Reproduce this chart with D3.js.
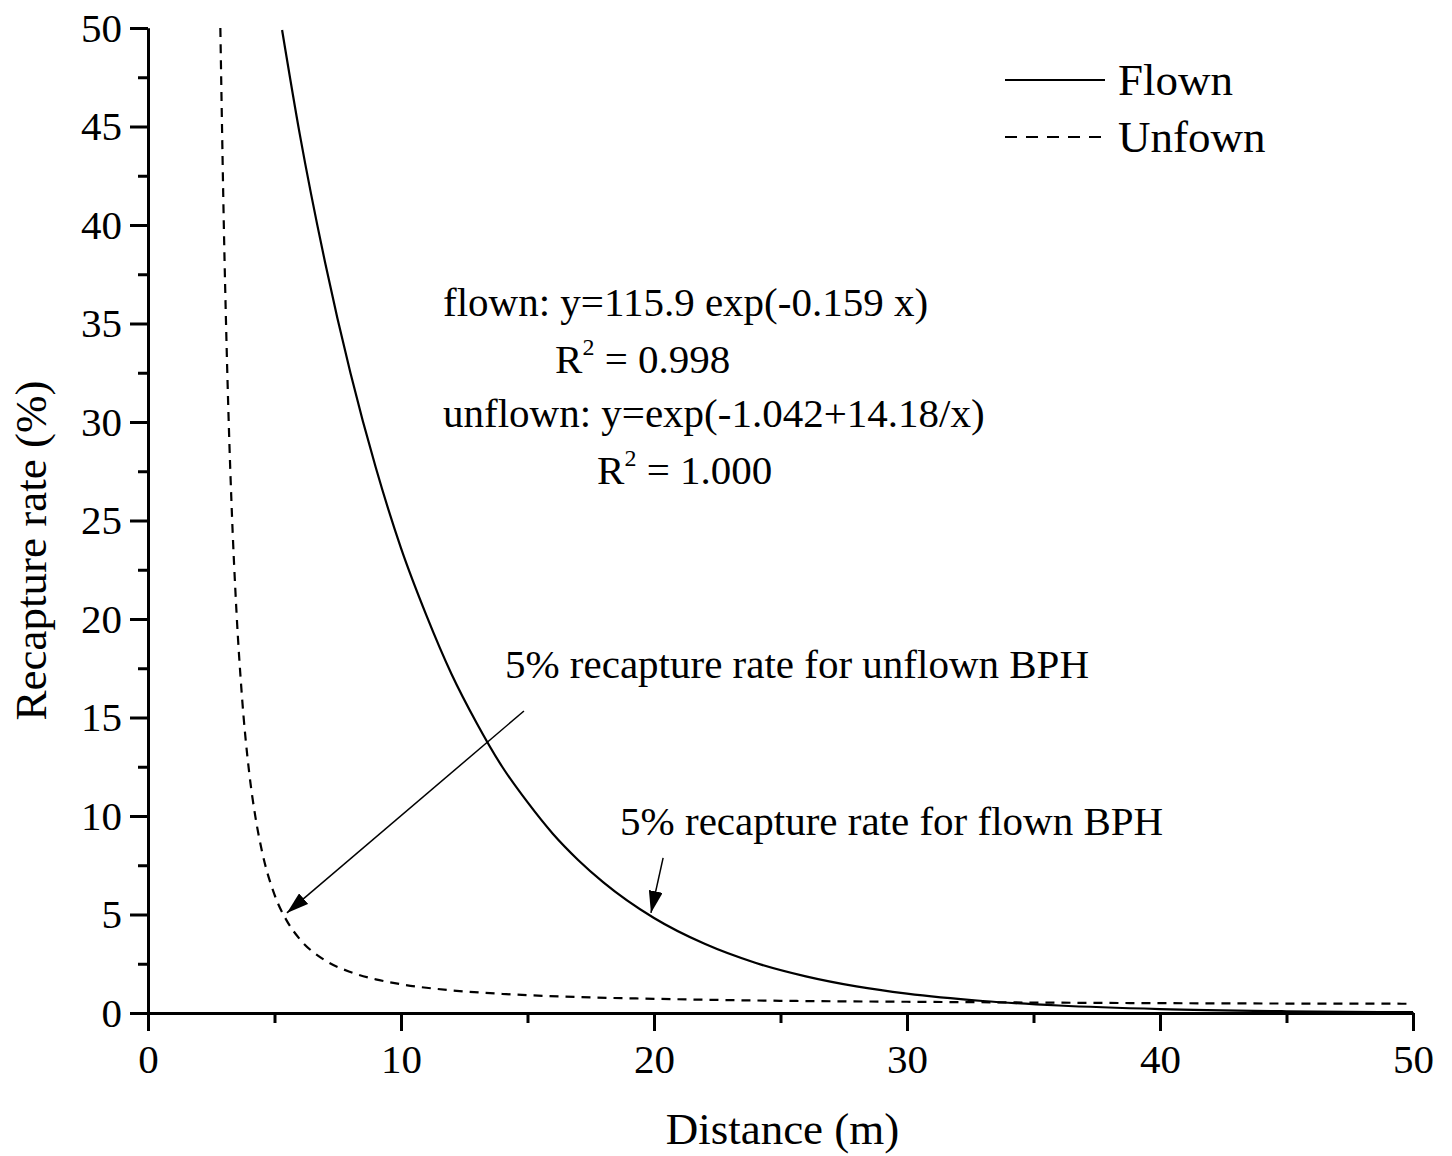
<!DOCTYPE html>
<html>
<head>
<meta charset="utf-8">
<script src="https://cdn.jsdelivr.net/npm/d3@7"></script>
<style>
    body { margin: 0; background: #fff; }
    #chart { width: 1452px; height: 1156px; }
</style>
</head>
<body>
<div id="chart"></div>
<script>
// values
const flownX = [5.3, 6, 7, 8, 9, 10, 11, 12, 13, 14, 15, 16, 17, 18, 20, 22, 24, 26, 28, 30, 33, 36, 40, 45, 50];
const flownY = [49.9, 44.6, 38.1, 32.5, 27.7, 23.6, 20.2, 17.2, 14.7, 12.5, 10.7, 9.1, 7.77, 6.63, 4.82, 3.51, 2.55, 1.86, 1.35, 0.98, 0.61, 0.38, 0.2, 0.09, 0.04];

const unflownX = [2.86, 2.9, 3, 3.1, 3.2, 3.3, 3.5, 3.7, 4, 4.25, 4.5, 5, 5.5, 6, 7, 8, 9, 10, 12, 14, 17, 20, 25, 30, 35, 40, 45, 50];
const unflownY = [50, 46.9, 39.8, 34.2, 29.6, 25.9, 20.3, 16.3, 12.2, 9.92, 8.24, 6.01, 4.65, 3.75, 2.67, 2.08, 1.71, 1.46, 1.15, 0.97, 0.81, 0.72, 0.62, 0.57, 0.53, 0.5, 0.48, 0.47];

const xMajorTicks = [0, 10, 20, 30, 40, 50];
const xMinorTicks = [5, 15, 25, 35, 45];
const yMajorTicks = [0, 5, 10, 15, 20, 25, 30, 35, 40, 45, 50];
const yMinorTicks = [2.5, 7.5, 12.5, 17.5, 22.5, 27.5, 32.5, 37.5, 42.5, 47.5];

const legendNames = ["Flown", "Unfown"];

drawChart();

function drawChart() {
    let div = document.getElementById("chart");
    let divWidth = 1452;
    let divHeight = 1156;
    let font = "'Liberation Serif', 'Times New Roman', serif";

    let margin = { top: 28, bottom: 143, right: 39, left: 148 };
    let width = divWidth - margin.left - margin.right;
    let height = divHeight - margin.top - margin.bottom;

    let svg = d3.select(div).append("svg")
        .attr("width", divWidth)
        .attr("height", divHeight);

    svg.append("rect")
        .attr("width", divWidth).attr("height", divHeight)
        .attr("fill", "#fff");

    let defs = svg.append("defs");
    defs.append("clipPath").attr("id", "clip")
        .append("rect")
        .attr("x", 0).attr("y", 0)
        .attr("width", width).attr("height", height);

    defs.append("marker")
        .attr("id", "arrow")
        .attr("viewBox", "0 0 22 14")
        .attr("refX", 22).attr("refY", 7)
        .attr("markerWidth", 22).attr("markerHeight", 14)
        .attr("markerUnits", "userSpaceOnUse")
        .attr("orient", "auto")
        .append("path")
        .attr("d", "M0,0 L22,7 L0,14 Z")
        .attr("fill", "#000");

    let g = svg.append("g").attr("transform", `translate(${margin.left},${margin.top})`);

    let x = d3.scaleLinear().domain([0, 50]).range([0, width]);
    let y = d3.scaleLinear().domain([0, 50]).range([height, 0]);

    // axes
    let styleAxis = sel => {
        sel.select(".domain").attr("stroke-width", 3).attr("stroke", "#000");
        sel.selectAll(".tick line").attr("stroke-width", 3).attr("stroke", "#000");
        sel.selectAll(".tick text")
            .attr("font-family", font)
            .attr("font-size", 41)
            .attr("fill", "#000");
    };

    g.append("g")
        .attr("transform", `translate(0,${height})`)
        .call(d3.axisBottom(x).tickValues(xMinorTicks).tickSize(10).tickSizeOuter(0).tickFormat(""))
        .call(styleAxis);

    g.append("g")
        .attr("transform", `translate(0,${height})`)
        .call(d3.axisBottom(x).tickValues(xMajorTicks).tickSize(18).tickSizeOuter(0).tickPadding(13).tickFormat(d3.format("d")))
        .call(styleAxis);

    g.append("g")
        .call(d3.axisLeft(y).tickValues(yMinorTicks).tickSize(10).tickSizeOuter(0).tickFormat(""))
        .call(styleAxis);

    g.append("g")
        .call(d3.axisLeft(y).tickValues(yMajorTicks).tickSize(18).tickSizeOuter(0).tickPadding(8).tickFormat(d3.format("d")))
        .call(styleAxis);

    // axis titles
    g.append("text")
        .attr("text-anchor", "middle")
        .attr("x", width / 2 + 2)
        .attr("y", height + 131)
        .text("Distance (m)")
        .attr("font-family", font)
        .attr("font-size", 45);

    g.append("text")
        .attr("text-anchor", "middle")
        .attr("transform", "rotate(-90)")
        .attr("x", -(height / 2 + 30))
        .attr("y", -102)
        .text("Recapture rate (%)")
        .attr("font-family", font)
        .attr("font-size", 45);

    // curves
    let line = d3.line()
        .x(d => x(d[0]))
        .y(d => y(d[1]))
        .curve(d3.curveMonotoneX);

    let series = [
        { name: "Flown", values: flownX.map((v, i) => [v, flownY[i]]), dash: null },
        { name: "Unfown", values: unflownX.map((v, i) => [v, unflownY[i]]), dash: "9,7" }
    ];

    g.append("g").attr("clip-path", "url(#clip)")
        .selectAll("path")
        .data(series)
        .enter()
        .append("path")
        .attr("d", d => line(d.values))
        .attr("fill", "none")
        .attr("stroke", "#000")
        .attr("stroke-width", 2.2)
        .attr("stroke-dasharray", d => d.dash);

    // legend
    let legend = g.selectAll(".legend")
        .data(series)
        .enter()
        .append("g")
        .attr("class", "legend")
        .attr("transform", (d, i) => `translate(${857},${52 + i * 57})`);

    legend.append("line")
        .attr("x1", 0).attr("x2", 100)
        .attr("y1", 0).attr("y2", 0)
        .attr("stroke", "#000")
        .attr("stroke-width", 2.2)
        .attr("stroke-dasharray", d => d.dash ? "12,9" : null);

    legend.append("text")
        .attr("x", 113)
        .attr("y", 15)
        .text((d, i) => legendNames[i])
        .attr("font-family", font)
        .attr("font-size", 45);

    // equations
    let eqs = [
        { x: 11.66, y: 35.4, main: "flown: y=115.9 exp(-0.159 x)" },
        { x: 16.09, y: 32.5, main: "R", sup: "2", rest: " = 0.998" },
        { x: 11.66, y: 29.75, main: "unflown: y=exp(-1.042+14.18/x)" },
        { x: 17.75, y: 26.85, main: "R", sup: "2", rest: " = 1.000" }
    ];

    eqs.forEach(e => {
        let t = g.append("text")
            .attr("x", x(e.x))
            .attr("y", y(e.y))
            .attr("font-family", font)
            .attr("font-size", 41);
        t.append("tspan").text(e.main);
        if (e.sup) {
            t.append("tspan").text(e.sup).attr("font-size", 24).attr("dy", -18);
            t.append("tspan").text(e.rest).attr("dy", 18);
        }
    });

    // arrows with labels
    let notes = [
        { text: "5% recapture rate for unflown BPH", tx: 14.11, ty: 17.0, from: [14.86, 15.33], to: [5.49, 5.08] },
        { text: "5% recapture rate for flown BPH", tx: 18.66, ty: 9.04, from: [20.36, 7.87], to: [19.88, 5.08] }
    ];

    notes.forEach(n => {
        g.append("text")
            .attr("x", x(n.tx))
            .attr("y", y(n.ty))
            .text(n.text)
            .attr("font-family", font)
            .attr("font-size", 41);

        g.append("line")
            .attr("x1", x(n.from[0])).attr("y1", y(n.from[1]))
            .attr("x2", x(n.to[0])).attr("y2", y(n.to[1]))
            .attr("stroke", "#000")
            .attr("stroke-width", 1.5)
            .attr("marker-end", "url(#arrow)");
    });
}
</script>
</body>
</html>
